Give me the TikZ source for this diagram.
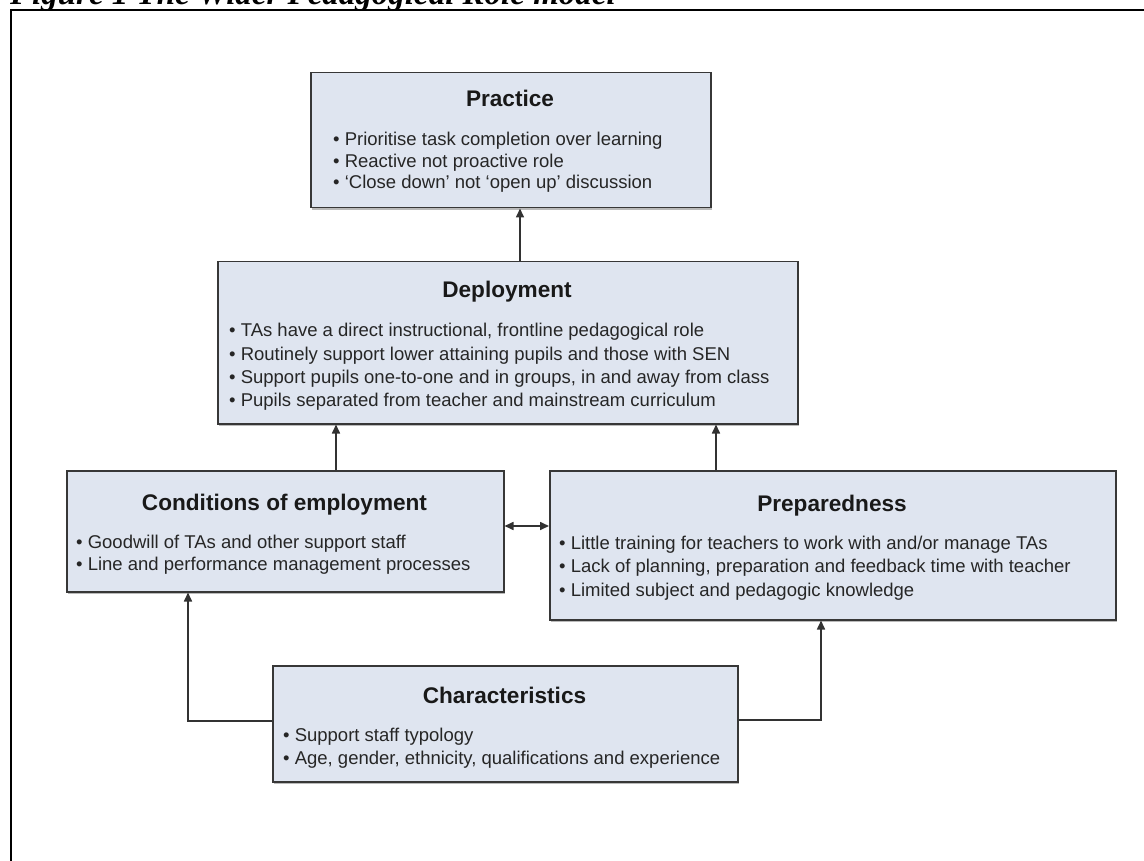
\documentclass[tikz,border=0pt]{standalone}
\usepackage{fontspec}
\setmainfont{Liberation Sans}
\newfontfamily\capfont{Liberation Serif}
\usetikzlibrary{arrows.meta,shadows,calc}
\definecolor{boxfill}{RGB}{223,229,240}
\definecolor{boxline}{RGB}{55,55,55}
\definecolor{conline}{RGB}{50,50,50}
\tikzset{
  boxnode/.style={draw=boxline, fill=boxfill, line width=1.5pt, rectangle, inner sep=0pt,
    anchor=north west, drop shadow={shadow xshift=1pt, shadow yshift=-2.5pt, fill=black!45, opacity=0.6}},
  titlenode/.style={anchor=base, inner sep=0pt, font=\fontsize{22.6}{26}\selectfont\bfseries, text=black!90},
  bulnode/.style={anchor=base west, inner sep=0pt, font=\fontsize{18.5}{22}\selectfont, text=black!85},
  arr/.style={draw=conline, line width=1.6pt, -{Triangle[length=9pt,width=8pt]}},
  dblarr/.style={draw=conline, line width=1.6pt, {Triangle[length=9pt,width=8pt]}-{Triangle[length=9pt,width=8pt]}},
}
\begin{document}
\begin{tikzpicture}[x=1pt,y=-1pt]
\useasboundingbox (0,0) rectangle (1144,861);
% caption (cut off at top) and frame
\node[anchor=base west, inner sep=0pt, font=\capfont\fontsize{33}{36}\selectfont\bfseries\itshape] (caption) at (10,5) {Figure 1 The Wider Pedagogical Role model};
\draw[line width=2.5pt] (11,880) -- (11,10) -- (1160,10);

% boxes
\node[boxnode, minimum width=400pt, minimum height=135pt] (practice) at (310,72) {};
\node[boxnode, minimum width=580pt, minimum height=162pt] (deploy) at (217,261) {};
\node[boxnode, minimum width=437pt, minimum height=121pt] (cond) at (66,470) {};
\node[boxnode, minimum width=566pt, minimum height=149pt] (prep) at (549,470) {};
\node[boxnode, minimum width=465pt, minimum height=116pt] (chars) at (272,665) {};

% titles
\node[titlenode] (tpractice) at (510,107) {Practice};
\node[titlenode] (tdeploy) at (507,298) {Deployment};
\node[titlenode] (tcond) at (284.5,510) {Conditions of employment};
\node[titlenode] (tprep) at (832,511) {Preparedness};
\node[titlenode] (tchars) at (504.5,703) {Characteristics};

% bullets
\foreach \t [count=\i] in {{Prioritise task completion over learning},{Reactive not proactive role},{‘Close down’ not ‘open up’ discussion}}
  \node[bulnode] (bp\i) at (333,{146+21.5*(\i-1)}) {• \t};
\foreach \t [count=\i] in {{TAs have a direct instructional, frontline pedagogical role},{Routinely support lower attaining pupils and those with SEN},{Support pupils one-to-one and in groups, in and away from class},{Pupils separated from teacher and mainstream curriculum}}
  \node[bulnode] (bd\i) at (229,{337+23.3*(\i-1)}) {• \t};
\foreach \t [count=\i] in {{Goodwill of TAs and other support staff},{Line and performance management processes}}
  \node[bulnode] (bc\i) at (76,{548+22.5*(\i-1)}) {• \t};
\foreach \t [count=\i] in {{Little training for teachers to work with and/or manage TAs},{Lack of planning, preparation and feedback time with teacher},{Limited subject and pedagogic knowledge}}
  \node[bulnode] (bpr\i) at (559,{549+23.5*(\i-1)}) {• \t};
\foreach \t [count=\i] in {{Support staff typology},{Age, gender, ethnicity, qualifications and experience}}
  \node[bulnode] (bch\i) at (283,{741+23*(\i-1)}) {• \t};

% connectors
\draw[arr] ([xshift=303pt]deploy.north west) -- ([xshift=303pt]deploy.north west |- practice.south);
\draw[arr] ([xshift=270pt]cond.north west) -- ([xshift=270pt]cond.north west |- deploy.south);
\draw[arr] ([xshift=167pt]prep.north west) -- ([xshift=167pt]prep.north west |- deploy.south);
\draw[dblarr] ([yshift=-56pt]cond.north east) -- ([yshift=-56pt]prep.north west);
\draw[arr] ([yshift=-56pt]chars.north west) -| ([xshift=122pt]cond.south west);
\draw[arr] ([yshift=-55pt]chars.north east) -| ([xshift=272pt]prep.south west);
\end{tikzpicture}
\end{document}
